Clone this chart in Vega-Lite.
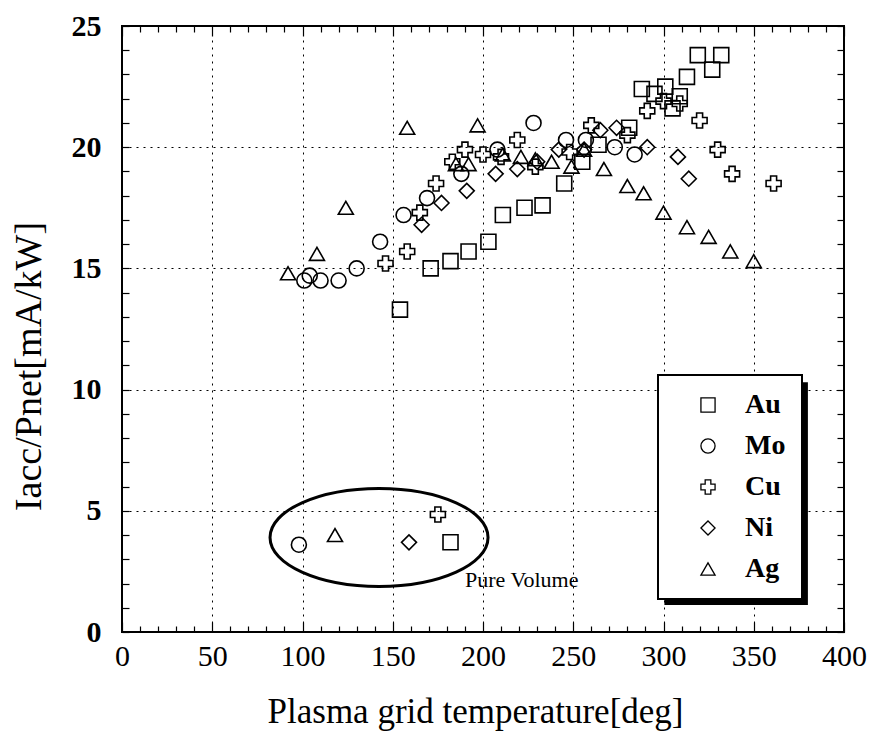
{
  "$schema": "https://vega.github.io/schema/vega-lite/v6.json",
  "width": 722,
  "height": 606,
  "autosize": {"type": "none"},
  "padding": {"left": 122, "top": 26, "right": 28, "bottom": 104},
  "background": "white",
  "config": {
    "view": {"stroke": "black", "strokeWidth": 2},
    "font": "Liberation Serif",
    "legend": {"strokeWidth": 2, "strokeColor": "black", "fillColor": "white"},
    "axis": {
      "domain": false,
      "labelFont": "Liberation Serif",
      "titleFont": "Liberation Serif",
      "labelColor": "black",
      "titleColor": "black",
      "tickColor": "black",
      "tickWidth": 1.2,
      "gridColor": "black",
      "gridDash": [2, 5],
      "gridWidth": 1,
      "gridOpacity": 1,
      "titleFontWeight": "normal",
      "labelFlush": false,
      "labelOverlap": false
    }
  },
  "resolve": {"axis": {"x": "independent", "y": "independent"}},
  "layer": [
    {
      "data": {"values": [{"xa": 300.5, "xb": 380, "ya": 10.3, "yb": 1.11}]},
      "mark": {"type": "rect", "color": "black"},
      "encoding": {
        "x": {
          "field": "xa", "type": "quantitative",
          "scale": {"domain": [0, 400], "nice": false, "zero": false},
          "axis": {
            "orient": "bottom",
            "values": [0,10,20,30,40,50,60,70,80,90,100,110,120,130,140,150,160,170,180,190,200,210,220,230,240,250,260,270,280,290,300,310,320,330,340,350,360,370,380,390,400],
            "labels": false, "grid": false, "title": null, "ticks": true,
            "tickSize": {"condition": {"test": "datum.value % 50 === 0", "value": -10}, "value": -6}
          }
        },
        "x2": {"field": "xb"},
        "y": {
          "field": "ya", "type": "quantitative",
          "scale": {"domain": [0, 25], "nice": false, "zero": false},
          "axis": {
            "orient": "left",
            "values": [0,1,2,3,4,5,6,7,8,9,10,11,12,13,14,15,16,17,18,19,20,21,22,23,24,25],
            "labels": false, "grid": false, "title": null, "ticks": true, "tickSize": -7
          }
        },
        "y2": {"field": "yb"}
      }
    },
    {
      "data": {"values": [
        {"metal": "Au", "temp": 154, "ratio": 13.3},
        {"metal": "Au", "temp": 171, "ratio": 15.0},
        {"metal": "Au", "temp": 182, "ratio": 15.3},
        {"metal": "Au", "temp": 192, "ratio": 15.7},
        {"metal": "Au", "temp": 203, "ratio": 16.1},
        {"metal": "Au", "temp": 211, "ratio": 17.2},
        {"metal": "Au", "temp": 223, "ratio": 17.5},
        {"metal": "Au", "temp": 233, "ratio": 17.6},
        {"metal": "Au", "temp": 245, "ratio": 18.5},
        {"metal": "Au", "temp": 255, "ratio": 19.4},
        {"metal": "Au", "temp": 264, "ratio": 20.1},
        {"metal": "Au", "temp": 281, "ratio": 20.8},
        {"metal": "Au", "temp": 288, "ratio": 22.4},
        {"metal": "Au", "temp": 295, "ratio": 22.2},
        {"metal": "Au", "temp": 301, "ratio": 22.5},
        {"metal": "Au", "temp": 305, "ratio": 21.6},
        {"metal": "Au", "temp": 309, "ratio": 22.1},
        {"metal": "Au", "temp": 313, "ratio": 22.9},
        {"metal": "Au", "temp": 319, "ratio": 23.8},
        {"metal": "Au", "temp": 327, "ratio": 23.2},
        {"metal": "Au", "temp": 332, "ratio": 23.8},
        {"metal": "Au", "temp": 182, "ratio": 3.7},
        {"metal": "Mo", "temp": 101, "ratio": 14.5},
        {"metal": "Mo", "temp": 104, "ratio": 14.7},
        {"metal": "Mo", "temp": 110, "ratio": 14.5},
        {"metal": "Mo", "temp": 120, "ratio": 14.5},
        {"metal": "Mo", "temp": 130, "ratio": 15.0},
        {"metal": "Mo", "temp": 143, "ratio": 16.1},
        {"metal": "Mo", "temp": 156, "ratio": 17.2},
        {"metal": "Mo", "temp": 169, "ratio": 17.9},
        {"metal": "Mo", "temp": 188, "ratio": 18.9},
        {"metal": "Mo", "temp": 208, "ratio": 19.9},
        {"metal": "Mo", "temp": 228, "ratio": 21.0},
        {"metal": "Mo", "temp": 246, "ratio": 20.3},
        {"metal": "Mo", "temp": 257, "ratio": 20.3},
        {"metal": "Mo", "temp": 273, "ratio": 20.0},
        {"metal": "Mo", "temp": 284, "ratio": 19.7},
        {"metal": "Mo", "temp": 98, "ratio": 3.6},
        {"metal": "Cu", "temp": 146, "ratio": 15.2},
        {"metal": "Cu", "temp": 158, "ratio": 15.7},
        {"metal": "Cu", "temp": 165, "ratio": 17.3},
        {"metal": "Cu", "temp": 174, "ratio": 18.5},
        {"metal": "Cu", "temp": 183, "ratio": 19.4},
        {"metal": "Cu", "temp": 190, "ratio": 19.9},
        {"metal": "Cu", "temp": 200, "ratio": 19.7},
        {"metal": "Cu", "temp": 210, "ratio": 19.6},
        {"metal": "Cu", "temp": 219, "ratio": 20.3},
        {"metal": "Cu", "temp": 229, "ratio": 19.2},
        {"metal": "Cu", "temp": 248, "ratio": 19.8},
        {"metal": "Cu", "temp": 260, "ratio": 20.9},
        {"metal": "Cu", "temp": 280, "ratio": 20.5},
        {"metal": "Cu", "temp": 291, "ratio": 21.5},
        {"metal": "Cu", "temp": 300, "ratio": 21.9},
        {"metal": "Cu", "temp": 309, "ratio": 21.8},
        {"metal": "Cu", "temp": 320, "ratio": 21.1},
        {"metal": "Cu", "temp": 330, "ratio": 19.9},
        {"metal": "Cu", "temp": 338, "ratio": 18.9},
        {"metal": "Cu", "temp": 361, "ratio": 18.5},
        {"metal": "Cu", "temp": 175, "ratio": 4.85},
        {"metal": "Ni", "temp": 166, "ratio": 16.8},
        {"metal": "Ni", "temp": 177, "ratio": 17.7},
        {"metal": "Ni", "temp": 191, "ratio": 18.2},
        {"metal": "Ni", "temp": 207, "ratio": 18.9},
        {"metal": "Ni", "temp": 219, "ratio": 19.1},
        {"metal": "Ni", "temp": 230, "ratio": 19.4},
        {"metal": "Ni", "temp": 242, "ratio": 19.9},
        {"metal": "Ni", "temp": 256, "ratio": 19.9},
        {"metal": "Ni", "temp": 265, "ratio": 20.7},
        {"metal": "Ni", "temp": 274, "ratio": 20.8},
        {"metal": "Ni", "temp": 291, "ratio": 20.0},
        {"metal": "Ni", "temp": 308, "ratio": 19.6},
        {"metal": "Ni", "temp": 314, "ratio": 18.7},
        {"metal": "Ni", "temp": 159, "ratio": 3.7},
        {"metal": "Ag", "temp": 92, "ratio": 14.8},
        {"metal": "Ag", "temp": 108, "ratio": 15.6},
        {"metal": "Ag", "temp": 124, "ratio": 17.5},
        {"metal": "Ag", "temp": 158, "ratio": 20.8},
        {"metal": "Ag", "temp": 185, "ratio": 19.3},
        {"metal": "Ag", "temp": 192, "ratio": 19.3},
        {"metal": "Ag", "temp": 197, "ratio": 20.9},
        {"metal": "Ag", "temp": 211, "ratio": 19.7},
        {"metal": "Ag", "temp": 221, "ratio": 19.6},
        {"metal": "Ag", "temp": 229, "ratio": 19.5},
        {"metal": "Ag", "temp": 238, "ratio": 19.4},
        {"metal": "Ag", "temp": 249, "ratio": 19.2},
        {"metal": "Ag", "temp": 256, "ratio": 19.9},
        {"metal": "Ag", "temp": 267, "ratio": 19.1},
        {"metal": "Ag", "temp": 280, "ratio": 18.4},
        {"metal": "Ag", "temp": 289, "ratio": 18.1},
        {"metal": "Ag", "temp": 300, "ratio": 17.3},
        {"metal": "Ag", "temp": 313, "ratio": 16.7},
        {"metal": "Ag", "temp": 325, "ratio": 16.3},
        {"metal": "Ag", "temp": 337, "ratio": 15.7},
        {"metal": "Ag", "temp": 350, "ratio": 15.3},
        {"metal": "Ag", "temp": 118, "ratio": 4.0}
      ]},
      "mark": {"type": "point", "filled": false, "size": 225, "strokeWidth": 1.6, "color": "black", "opacity": 1},
      "encoding": {
        "x": {
          "field": "temp", "type": "quantitative",
          "scale": {"domain": [0, 400], "nice": false, "zero": false},
          "axis": {
            "orient": "bottom",
            "values": [0, 50, 100, 150, 200, 250, 300, 350, 400],
            "ticks": false, "labels": true, "grid": true,
            "labelFontSize": 30, "labelPadding": 9,
            "title": "Plasma grid temperature[deg]",
            "titleFontSize": 35, "titleX": 353, "titleY": 90,
            "titleBaseline": "alphabetic", "titleAlign": "center"
          }
        },
        "y": {
          "field": "ratio", "type": "quantitative",
          "scale": {"domain": [0, 25], "nice": false, "zero": false},
          "axis": {
            "orient": "left",
            "values": [0, 5, 10, 15, 20, 25],
            "ticks": false, "labels": true, "grid": true,
            "labelFontSize": 30, "labelFontWeight": "bold", "labelPadding": 21,
            "title": "Iacc/Pnet[mA/kW]",
            "titleFontSize": 38, "titleX": -93, "titleY": 340,
            "titleBaseline": "middle", "titleAlign": "center"
          }
        },
        "shape": {
          "field": "metal", "type": "nominal",
          "scale": {"domain": ["Au", "Mo", "Cu", "Ni", "Ag"], "range": ["square", "circle", "cross", "diamond", "triangle-up"]},
          "legend": {
            "title": null, "orient": "none", "legendX": 536, "legendY": 349,
            "direction": "vertical",
            "fillColor": "white", "strokeColor": "black",
            "padding": 16, "cornerRadius": 0,
            "symbolSize": 200, "symbolStrokeWidth": 1.3, "symbolStrokeColor": "black", "symbolFillColor": "transparent",
            "symbolOffset": 20, "labelOffset": 23,
            "labelFont": "Liberation Serif", "labelFontSize": 28, "labelFontWeight": "bold", "labelColor": "black",
            "rowPadding": 13
          }
        }
      }
    },
    {
      "data": {"values": [{"cx": 142.4, "cy": 3.9}]},
      "mark": {"type": "point", "shape": "M-1,0A1,0.45,0,1,0,1,0A1,0.45,0,1,0,-1,0Z", "size": 47524, "filled": false, "strokeWidth": 3, "color": "black", "opacity": 1},
      "encoding": {
        "x": {
          "field": "cx", "type": "quantitative",
          "scale": {"domain": [0, 400], "nice": false, "zero": false},
          "axis": {
            "orient": "top",
            "values": [0,10,20,30,40,50,60,70,80,90,100,110,120,130,140,150,160,170,180,190,200,210,220,230,240,250,260,270,280,290,300,310,320,330,340,350,360,370,380,390,400],
            "labels": false, "grid": false, "title": null, "ticks": true,
            "tickSize": {"condition": {"test": "datum.value % 50 === 0", "value": -10}, "value": -6}
          }
        },
        "y": {
          "field": "cy", "type": "quantitative",
          "scale": {"domain": [0, 25], "nice": false, "zero": false},
          "axis": {
            "orient": "right",
            "values": [0,1,2,3,4,5,6,7,8,9,10,11,12,13,14,15,16,17,18,19,20,21,22,23,24,25],
            "labels": false, "grid": false, "title": null, "ticks": true, "tickSize": -7
          }
        }
      }
    },
    {
      "data": {"values": [{"tx": 190, "ty": 1.84, "label": "Pure Volume"}]},
      "mark": {"type": "text", "align": "left", "baseline": "alphabetic", "font": "Liberation Serif", "fontSize": 22, "color": "black"},
      "encoding": {
        "x": {"field": "tx", "type": "quantitative", "scale": {"domain": [0, 400], "nice": false, "zero": false}, "axis": null},
        "y": {"field": "ty", "type": "quantitative", "scale": {"domain": [0, 25], "nice": false, "zero": false}, "axis": null},
        "text": {"field": "label"}
      }
    }
  ]
}
